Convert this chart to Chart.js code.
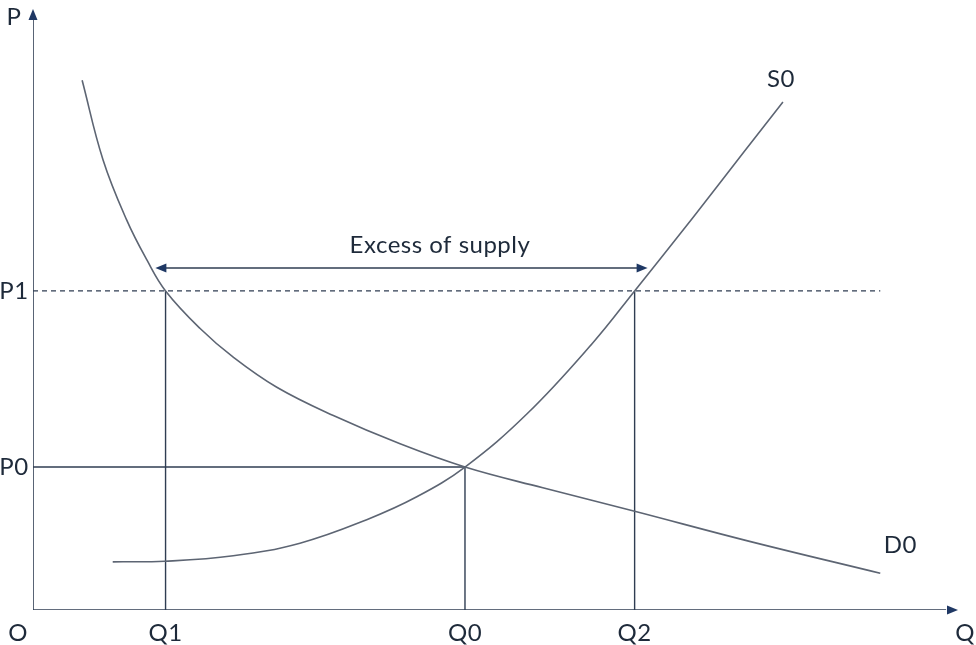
<!DOCTYPE html>
<html>
<head>
<meta charset="utf-8">
<script src="https://cdn.jsdelivr.net/npm/chart.js@4.4.0/dist/chart.umd.min.js"></script>
<style>
  body { margin: 0; background: #fff; }
  canvas { display: block; }
</style>
</head>
<body>
<canvas id="myChart" width="976" height="645"></canvas>
<script>
// demand curve D0 (quantity, price)
const demandQ = [5.3, 7.55, 10.1, 12.3, 14.3, 18.0, 21.6, 26.3, 32.4, 39.6, 46.6, 55.0, 64.9, 77.3, 91.4];
const demandP = [88.0, 74.8, 64.8, 58.1, 53.0, 46.8, 42.0, 37.0, 32.3, 27.6, 23.75, 20.3, 16.4, 11.4, 6.1];

// supply curve S0
const supplyQ = [8.6, 14.2, 21.6, 28.8, 36.0, 41.4, 46.6, 53.3, 60.4, 64.9, 71.2, 76.6, 80.9];
const supplyP = [8.0, 8.1, 9.0, 11.1, 15.0, 18.8, 23.75, 32.6, 44.4, 53.0, 65.2, 75.9, 84.4];

// equilibrium and reference values
const Q1 = 14.3, Q0 = 46.6, Q2 = 64.9;
const P1 = 53.0, P0 = 23.75;
const excessP = 56.8;
const excessFrom = 13.2, excessTo = 66.3;
const p1LineEnd = 91.4;

const ctx = document.getElementById("myChart");

const curveColor = "#5d6573";
const lineColor = "#2f3d52";
const arrowColor = "#1f3864";
const textColor = "#1e2a3a";

function pts(xs, ys) {
  return xs.map((x, i) => ({ x: x, y: ys[i] }));
}

function seg(data, color, width, dash) {
  return {
    data: data,
    showLine: true,
    borderColor: color,
    borderWidth: width,
    borderDash: dash || [],
    pointRadius: 0,
    tension: 0,
  };
}

const drawExtras = {
  id: "drawExtras",
  afterDatasetsDraw(chart) {
    const c = chart.ctx;
    const xs = chart.scales.x;
    const ys = chart.scales.y;
    const px = (v) => xs.getPixelForValue(v);
    const py = (v) => ys.getPixelForValue(v);

    function head(tx, ty, dir) {
      c.save();
      c.fillStyle = arrowColor;
      c.beginPath();
      if (dir === "up") {
        c.moveTo(tx, ty);
        c.lineTo(tx - 4.5, ty + 11);
        c.lineTo(tx + 4.5, ty + 11);
      } else if (dir === "right") {
        c.moveTo(tx, ty);
        c.lineTo(tx - 11, ty - 4.5);
        c.lineTo(tx - 11, ty + 4.5);
      } else {
        c.moveTo(tx, ty);
        c.lineTo(tx + 11, ty - 4.5);
        c.lineTo(tx + 11, ty + 4.5);
      }
      c.closePath();
      c.fill();
      c.restore();
    }

    head(px(0), py(100) + 1, "up");
    head(px(100) - 2, py(0), "right");
    head(px(excessFrom), py(excessP), "left");
    head(px(excessTo), py(excessP), "right");

    c.save();
    c.fillStyle = textColor;
    c.font = "24px Lato";
    c.letterSpacing = "0.5px";
    c.textAlign = "center";
    c.textBaseline = "middle";
    const below = py(0) + 23;
    c.fillText("O", px(0) - 15, below);
    c.fillText("Q1", px(Q1), below);
    c.fillText("Q0", px(Q0), below);
    c.fillText("Q2", px(Q2), below);
    c.fillText("Q", px(100) + 5, below);
    c.fillText("P", px(0) - 19, py(100) + 9);
    c.fillText("P1", px(0) - 19, py(P1));
    c.fillText("P0", px(0) - 19, py(P0));
    c.fillText("S0", px(supplyQ[supplyQ.length - 1]) - 2, py(supplyP[supplyP.length - 1]) - 23);
    c.fillText("D0", px(demandQ[demandQ.length - 1]) + 20, py(demandP[demandP.length - 1]) - 28);
    c.fillText("Excess of supply", px(Q0) - 25, py(excessP) - 23);
    c.restore();
  },
};

new Chart(ctx, {
  type: "scatter",
  data: {
    datasets: [
      {
        data: pts(demandQ, demandP),
        showLine: true,
        borderColor: curveColor,
        borderWidth: 1.6,
        pointRadius: 0,
        tension: 0.4,
      },
      {
        data: pts(supplyQ, supplyP),
        showLine: true,
        borderColor: curveColor,
        borderWidth: 1.6,
        pointRadius: 0,
        tension: 0.4,
      },
      seg([{ x: 0, y: P1 }, { x: p1LineEnd, y: P1 }], lineColor, 1.2, [5, 4]),
      seg([{ x: 0, y: P0 }, { x: Q0, y: P0 }], lineColor, 1.4),
      seg([{ x: Q1, y: 0 }, { x: Q1, y: P1 }], lineColor, 1.4),
      seg([{ x: Q0, y: 0 }, { x: Q0, y: P0 }], lineColor, 1.4),
      seg([{ x: Q2, y: 0 }, { x: Q2, y: P1 }], lineColor, 1.4),
      seg([{ x: excessFrom + 1, y: excessP }, { x: excessTo - 1, y: excessP }], lineColor, 1.6),
      seg([{ x: 0, y: 0 }, { x: 0, y: 99 }], lineColor, 1.6),
      seg([{ x: 0, y: 0 }, { x: 98.5, y: 0 }], lineColor, 1.6),
    ],
  },
  options: {
    responsive: false,
    animation: false,
    layout: { padding: { left: 33, right: 16, top: 8, bottom: 35 } },
    plugins: {
      legend: { display: false },
      tooltip: { enabled: false },
    },
    scales: {
      x: { type: "linear", min: 0, max: 100, display: false },
      y: { type: "linear", min: 0, max: 100, display: false },
    },
  },
  plugins: [drawExtras],
});
</script>
</body>
</html>
